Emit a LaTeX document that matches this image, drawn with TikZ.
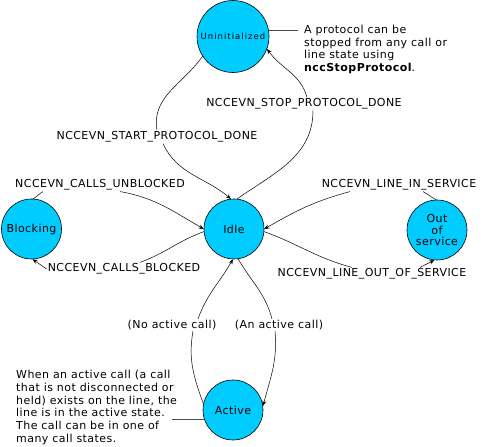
\documentclass[tikz,border=0pt]{standalone}
\usepackage{fontspec}
\setmainfont{DejaVu Sans}[LetterSpace=4]
\newfontfamily\smallstate{DejaVu Sans}[LetterSpace=12]
\usetikzlibrary{arrows.meta}
\definecolor{statecyan}{RGB}{0,204,255}

\begin{document}
\begin{tikzpicture}[x=1pt,y=1pt,
    state/.style={circle, draw=black, line width=0.6pt, fill=statecyan, inner sep=0pt,
        minimum size=60pt, align=center, font=\fontsize{11}{11.5}\selectfont},
    event/.style={inner sep=1pt, font=\fontsize{11}{13}\selectfont},
    trans/.style={line width=0.5pt, -{Stealth[length=5pt,width=4pt]}},
    link/.style={line width=0.5pt},
    callout/.style={draw=black!70, line width=0.8pt},
    note/.style={align=left, inner sep=0pt, anchor=west, font=\fontsize{11}{12.8}\selectfont}]

    \useasboundingbox (0,0) rectangle (482,447);

    \node[state, minimum size=72pt, font=\smallstate\fontsize{8.5}{9}\selectfont] (uninit) at (233,410.5) {Uninitialized};
    \node[state] (idle) at (234,218) {Idle};
    \node[state] (blocking) at (31.5,218) {Blocking};
    \node[state] (oos) at (437,217) {Out\\of\\service};
    \node[state] (active) at (233,37) {Active};

    \node[event] (startlbl) at (157,310) {NCCEVN\_START\_PROTOCOL\_DONE};
    \node[event] (stoplbl) at (304,343) {NCCEVN\_STOP\_PROTOCOL\_DONE};
    \node[event] (unblk) at (100,262) {NCCEVN\_CALLS\_UNBLOCKED};
    \node[event] (blklbl) at (124,178) {NCCEVN\_CALLS\_BLOCKED};
    \node[event] (inlbl) at (399,262) {NCCEVN\_LINE\_IN\_SERVICE};
    \node[event] (outlbl) at (372,173) {NCCEVN\_LINE\_OUT\_OF\_SERVICE};
    \node[event] (nolbl) at (172,122) {(No active call)};
    \node[event] (anlbl) at (279,122) {(An active call)};

    \draw[link] (uninit.213) to[out=235,in=100] (startlbl.north);
    \draw[trans] ([xshift=6pt]startlbl.south) to[out=-65,in=140] (idle.96);

    \draw[link] (idle.84) to[out=35,in=-90] ([xshift=9pt]stoplbl.south);
    \draw[trans] ([xshift=3pt]stoplbl.north) to[out=105,in=-55] (uninit.-20);

    \draw[link] (blocking.87) to[out=30,in=210] ([xshift=-57pt]unblk.south);
    \draw[trans] ([xshift=20pt]unblk.south) to[out=-10,in=150] (idle.180);

    \draw[link] (idle.185) to[out=200,in=20] ([xshift=16pt]blklbl.north);
    \draw[trans] (blklbl.west) -- (blocking.-88);

    \draw[link] (oos.92) -- ([xshift=24pt]inlbl.south);
    \draw[trans] ([xshift=-49pt]inlbl.south) to[out=195,in=30] (idle.0);

    \draw[link] (idle.-5) to[out=-20,in=165] ([xshift=-20pt]outlbl.north);
    \draw[trans] ([xshift=48pt]outlbl.north) -- (oos.-95);

    \draw[link] (active.168) to[out=110,in=260] ([xshift=21pt]nolbl.south);
    \draw[trans] ([xshift=26pt]nolbl.north) to[out=70,in=240] (idle.-92);

    \draw[link] (idle.-82) to[out=-60,in=105] ([xshift=-7pt]anlbl.north);
    \draw[trans] ([xshift=-4pt]anlbl.south) to[out=-85,in=75] (active.8);

    \node[note] (protocolnote) at (304,397.5) {A protocol can be\\stopped from any call or\\line state using\\\textbf{nccStopProtocol}.};
    \coordinate (protocoltip) at (298,416);
    \draw[callout] (uninit.9) -- (uninit.9 -| protocoltip);

    \node[note] (activenote) at (16,39.5) {When an active call (a call\\that is not disconnected or\\held) exists on the line, the\\line is in the active state.\\The call can be in one of\\many call states.};
    \coordinate (activetip) at (172,27);
    \draw[callout] (active.199.5) -- (active.199.5 -| activetip);

\end{tikzpicture}
\end{document}
